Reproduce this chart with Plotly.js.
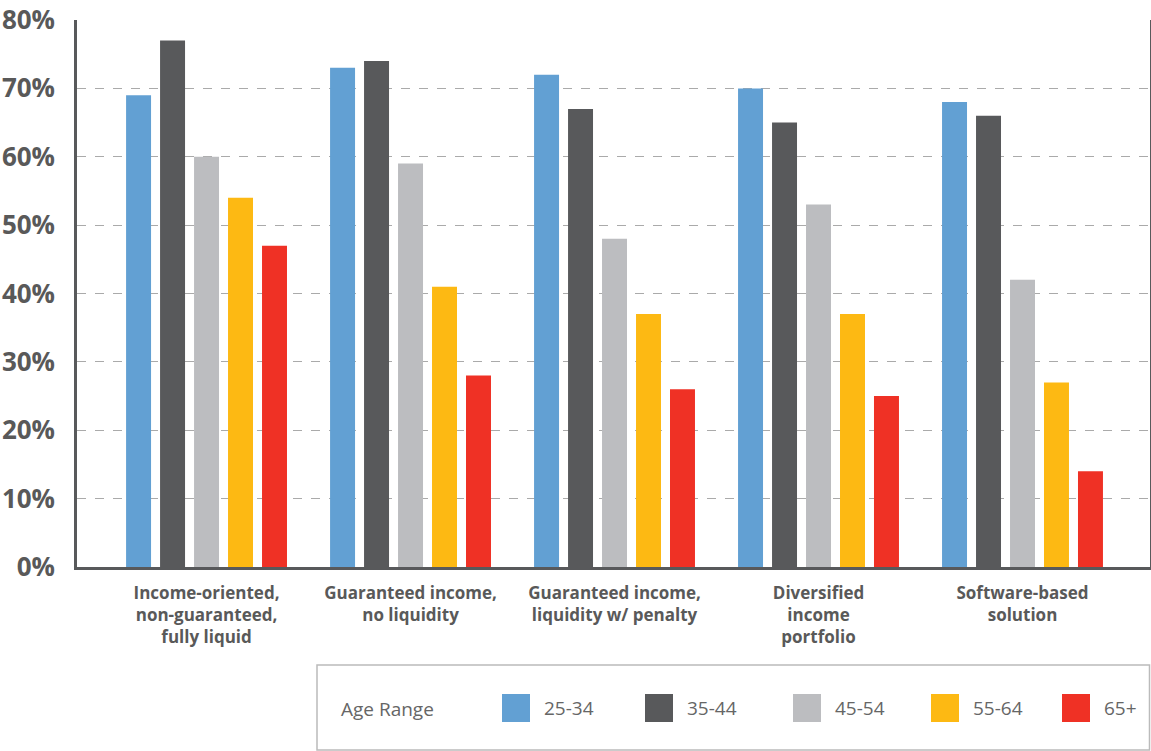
<!DOCTYPE html>
<html>
<head>
<meta charset="utf-8">
<script src="https://cdn.plot.ly/plotly-3.0.1.min.js"></script>
<style>
  html, body { margin: 0; padding: 0; background: #fff; }
  #chart { width: 1151px; height: 751px; }
</style>
</head>
<body>
<div id="chart"></div>
<script>
const categories = [
  "Income-oriented,<br>non-guaranteed,<br>fully liquid",
  "Guaranteed income,<br>no liquidity",
  "Guaranteed income,<br>liquidity w/ penalty",
  "Diversified<br>income<br>portfolio",
  "Software-based<br>solution"
];
const seriesNames = ["25-34", "35-44", "45-54", "55-64", "65+"];
const seriesColors = ["#62A0D3", "#58595B", "#BCBDC0", "#FDB913", "#EF3125"];
const age25_34 = [69, 73, 72, 70, 68];
const age35_44 = [77, 74, 67, 65, 66];
const age45_54 = [60, 59, 48, 53, 42];
const age55_64 = [54, 41, 37, 37, 27];
const age65plus = [47, 28, 26, 25, 14];
const seriesValues = [age25_34, age35_44, age45_54, age55_64, age65plus];
const yTickVals = [0, 10, 20, 30, 40, 50, 60, 70, 80];
const yTickText = ["0%", "10%", "20%", "30%", "40%", "50%", "60%", "70%", "80%"];
const legendTitle = "Age Range";

const W = 1151, H = 751;
const M = { l: 77, r: 1, t: 20, b: 184 };
const pw = W - M.l - M.r, ph = H - M.t - M.b;
const px = x => (x - M.l) / pw;
const py = y => (H - M.b - y) / ph;

const idx = categories.map((_, i) => i);
const traces = seriesNames.map((name, s) => ({
  type: "bar",
  name: name,
  x: idx,
  y: seriesValues[s],
  marker: { color: seriesColors[s], line: { width: 0 } },
  showlegend: false,
  hoverinfo: "y+name"
}));

const shapes = [{
  type: "rect", xref: "paper", yref: "paper",
  x0: px(317), x1: px(1149.5), y0: py(750), y1: py(665),
  line: { color: "#BBBBBB", width: 1.5 }, fillcolor: "rgba(0,0,0,0)"
}];
const annotations = [{
  xref: "paper", yref: "paper", x: px(339), y: py(709),
  xanchor: "left", yanchor: "middle", showarrow: false,
  text: legendTitle, font: { family: "Open Sans", size: 19, color: "#666666" }
}];
const swatchX = [502, 645, 793, 931, 1062];
seriesNames.forEach((name, s) => {
  shapes.push({
    type: "rect", xref: "paper", yref: "paper",
    x0: px(swatchX[s]), x1: px(swatchX[s] + 28), y0: py(722), y1: py(694),
    line: { width: 0 }, fillcolor: seriesColors[s]
  });
  annotations.push({
    xref: "paper", yref: "paper", x: px(swatchX[s] + 40), y: py(708),
    xanchor: "left", yanchor: "middle", showarrow: false,
    text: name, font: { family: "Open Sans", size: 19, color: "#666666" }
  });
});

const layout = {
  width: W, height: H,
  margin: M,
  paper_bgcolor: "#ffffff",
  plot_bgcolor: "#ffffff",
  barmode: "group",
  bargap: 0.167,
  bargroupgap: 0.265,
  showlegend: false,
  font: { family: "Open Sans", color: "#595959" },
  xaxis: {
    range: [-0.635, 4.625],
    tickmode: "array",
    tickvals: idx,
    ticktext: categories,
    showgrid: false,
    zeroline: false,
    showline: true,
    linecolor: "#58595B",
    linewidth: 2.5,
    ticks: "",
    ticklabelstandoff: 9,
    tickfont: { family: "Open Sans", size: 17, color: "#595959", weight: "bold" },
    fixedrange: true
  },
  yaxis: {
    range: [0, 80],
    tickmode: "array",
    tickvals: yTickVals,
    ticktext: yTickText,
    showgrid: true,
    gridcolor: "#AAAAAA",
    griddash: "dash",
    gridwidth: 1.2,
    zeroline: false,
    showline: true,
    mirror: true,
    linecolor: "#58595B",
    linewidth: 2.5,
    ticks: "",
    ticklabelstandoff: 14,
    tickfont: { family: "Open Sans", size: 26, color: "#595959", weight: "bold" },
    fixedrange: true
  },
  shapes: shapes,
  annotations: annotations
};

Plotly.newPlot("chart", traces, layout, { displayModeBar: false, staticPlot: false });
</script>
</body>
</html>
